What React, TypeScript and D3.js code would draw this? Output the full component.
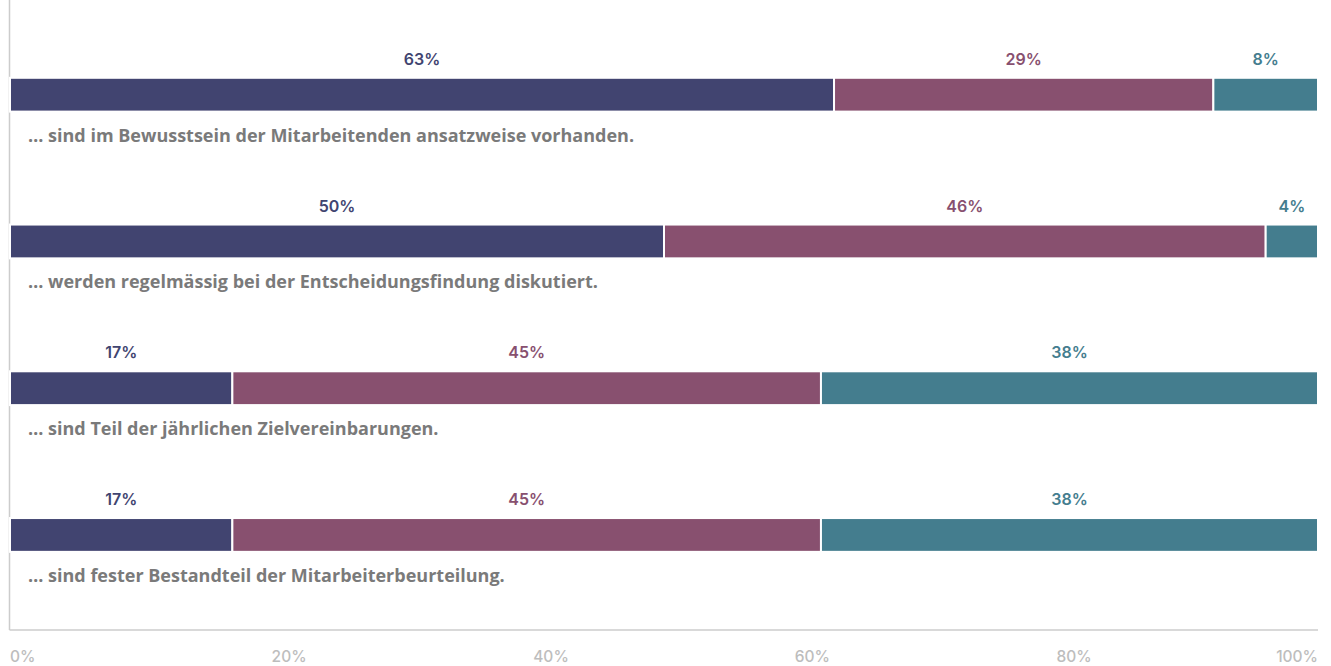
import React from "react";
import * as d3 from "d3";

const categories = [
  "… sind im Bewusstsein der Mitarbeitenden ansatzweise vorhanden.",
  "… werden regelmässig bei der Entscheidungsfindung diskutiert.",
  "… sind Teil der jährlichen Zielvereinbarungen.",
  "… sind fester Bestandteil der Mitarbeiterbeurteilung.",
];
const seriesA = [63, 50, 17, 17];
const seriesB = [29, 46, 45, 45];
const seriesC = [8, 4, 38, 38];
const seriesColors = ["#414470", "#88506f", "#447d8e"];
const tickValues = [0, 20, 40, 60, 80, 100];

const W = 1331;
const H = 666;

export default function App() {
  const x = d3.scaleLinear().domain([0, 100]).range([10, 1318]);
  const y = d3.scaleBand<string>().domain(categories).range([39, 626]);
  const barOffset = 38.8;
  const barH = 33.8;

  const rows = categories.map((c, i) => {
    const vals = [seriesA[i], seriesB[i], seriesC[i]];
    let acc = 0;
    const segs = vals.map((v, k) => {
      const s = { x0: acc, x1: acc + v, v, k };
      acc += v;
      return s;
    });
    return { c, segs };
  });

  const valueFont = "Inter, 'Open Sans', sans-serif";
  const labelFont = "'Open Sans', 'Noto Sans', sans-serif";

  return (
    <svg width={W} height={H} style={{ position: "absolute", left: 0, top: 0, background: "#fff" }}>
      <line x1={9.5} x2={9.5} y1={0} y2={630} stroke="#cccccc" strokeWidth={1.5} />
      <line x1={9.5} x2={x(100)} y1={630} y2={630} stroke="#cccccc" strokeWidth={1.5} />
      {rows.map((r, i) => {
        const top = (y(r.c) as number) + barOffset;
        return (
          <g key={i}>
            {r.segs.map((s) => (
              <rect
                key={s.k}
                x={x(s.x0)}
                y={top}
                width={x(s.x1) - x(s.x0)}
                height={barH}
                fill={seriesColors[s.k]}
                stroke="#fff"
                strokeWidth={2}
              />
            ))}
            {r.segs.map((s) => (
              <text
                key={"t" + s.k}
                x={(x(s.x0) + x(s.x1)) / 2}
                y={top - 13}
                textAnchor="middle"
                fill={seriesColors[s.k]}
                fontFamily={valueFont}
                fontSize={16}
                fontWeight={600}
              >
                {s.v}%
              </text>
            ))}
            <text
              x={28}
              y={top + barH + 30}
              fill="#7a7a7a"
              fontFamily={labelFont}
              fontSize={18}
              fontWeight={700}
            >
              {r.c}
            </text>
          </g>
        );
      })}
      {tickValues.map((t, i) => (
        <text
          key={t}
          x={x(t)}
          y={662}
          textAnchor={i === tickValues.length - 1 ? "end" : "start"}
          fill="#bdbdbd"
          fontFamily={valueFont}
          fontSize={15.5}
          fontWeight={500}
        >
          {t}%
        </text>
      ))}
    </svg>
  );
}
